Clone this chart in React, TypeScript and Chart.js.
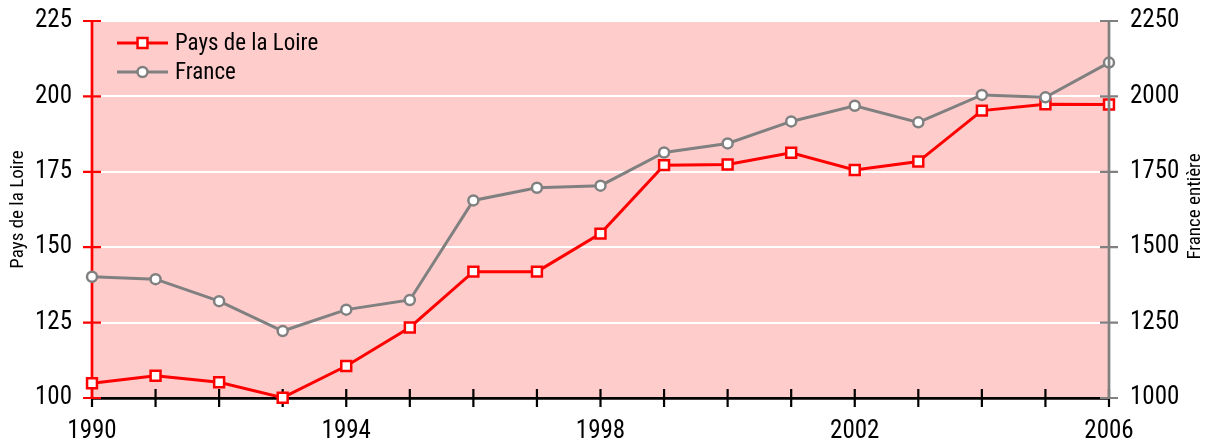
import React, { useEffect, useRef } from "react";
import { Chart, registerables } from "chart.js";

Chart.register(...registerables);

const years = ["1990","1991","1992","1993","1994","1995","1996","1997","1998","1999","2000","2001","2002","2003","2004","2005","2006"];
const labeledYears = ["1990", "1994", "1998", "2002", "2006"];
const paysDeLaLoire = [104.9, 107.4, 105.2, 100.1, 110.6, 123.4, 141.9, 141.9, 154.5, 177.2, 177.4, 181.3, 175.6, 178.4, 195.3, 197.4, 197.3];
const france = [1402, 1394, 1321, 1222, 1293, 1325, 1655, 1697, 1704, 1814, 1844, 1917, 1969, 1914, 2005, 1997, 2112];
const leftTitle = "Pays de la Loire";
const rightTitle = "France entière";

const FONT = "'Roboto Condensed', 'Liberation Sans Narrow', 'DejaVu Sans Condensed', sans-serif";
const RED = "#ff0000";
const GRAY = "#808080";
const PINK = "#ffcccc";

export default function App() {
  const ref = useRef<HTMLCanvasElement | null>(null);

  useEffect(() => {
    if (!ref.current) return;

    const bgPlugin = {
      id: "bg",
      beforeDraw(chart: any) {
        const { ctx, chartArea: a } = chart;
        ctx.save();
        ctx.fillStyle = PINK;
        ctx.fillRect(a.left, a.top, a.right - a.left, a.bottom - a.top);
        ctx.restore();
      },
    };

    const ticksPlugin = {
      id: "crossTicks",
      beforeDatasetsDraw(chart: any) {
        const { ctx } = chart;
        const x = chart.scales.x;
        const y = chart.scales.y;
        ctx.save();
        ctx.lineWidth = 2.2;
        ctx.strokeStyle = "#000";
        ctx.beginPath();
        x.ticks.forEach((_: any, i: number) => {
          const px = x.getPixelForTick(i);
          ctx.moveTo(px, x.top - 9);
          ctx.lineTo(px, x.top + 9);
        });
        ctx.stroke();
        ctx.strokeStyle = RED;
        ctx.beginPath();
        y.ticks.forEach((_: any, i: number) => {
          const py = y.getPixelForTick(i);
          ctx.moveTo(y.right - 9, py);
          ctx.lineTo(y.right + 9, py);
        });
        ctx.stroke();
        ctx.lineWidth = 2.7;
        ctx.beginPath();
        ctx.moveTo(y.right, y.top);
        ctx.lineTo(y.right, y.bottom);
        ctx.stroke();
        ctx.restore();
      },
      afterDatasetsDraw(chart: any) {
        const { ctx } = chart;
        const y2 = chart.scales.y2;
        ctx.save();
        ctx.strokeStyle = GRAY;
        ctx.lineWidth = 2.7;
        ctx.beginPath();
        ctx.moveTo(y2.left, y2.top);
        ctx.lineTo(y2.left, y2.bottom);
        ctx.stroke();
        ctx.lineWidth = 2.2;
        ctx.beginPath();
        y2.ticks.forEach((_: any, i: number) => {
          const py = y2.getPixelForTick(i);
          ctx.moveTo(y2.left - 9, py);
          ctx.lineTo(y2.left + 9, py);
        });
        ctx.stroke();

        // legend
        const a = chart.chartArea;
        chart.data.datasets.forEach((ds: any, i: number) => {
          const ly = a.top + 22 + i * 29;
          const x0 = a.left + 25;
          const x1 = a.left + 76;
          const cx = (x0 + x1) / 2;
          ctx.strokeStyle = ds.borderColor;
          ctx.lineWidth = 3;
          ctx.beginPath();
          ctx.moveTo(x0, ly);
          ctx.lineTo(x1, ly);
          ctx.stroke();
          ctx.fillStyle = "#fff";
          ctx.lineWidth = 2.5;
          ctx.beginPath();
          if (ds.pointStyle === "rect") {
            const s = ds.pointRadius * Math.SQRT1_2;
            ctx.rect(cx - s, ly - s, 2 * s, 2 * s);
          } else {
            ctx.arc(cx, ly, ds.pointRadius, 0, Math.PI * 2);
          }
          ctx.fill();
          ctx.stroke();
          ctx.fillStyle = "#000";
          ctx.font = `23px ${FONT}`;
          ctx.textBaseline = "middle";
          ctx.textAlign = "left";
          ctx.fillText(ds.label, a.left + 83, ly + 1);
        });

        // axis titles
        ctx.font = `19px ${FONT}`;
        ctx.fillStyle = "#000";
        ctx.textAlign = "center";
        ctx.textBaseline = "middle";
        ctx.save();
        ctx.translate(18, (a.top + a.bottom) / 2);
        ctx.rotate(-Math.PI / 2);
        ctx.fillText(leftTitle, 0, 0);
        ctx.restore();
        ctx.save();
        ctx.translate(1195, (a.top + a.bottom) / 2 - 3);
        ctx.rotate(-Math.PI / 2);
        ctx.fillText(rightTitle, 0, 0);
        ctx.restore();
        ctx.restore();
      },
    };

    const chart = new Chart(ref.current, {
      type: "line",
      data: {
        labels: years,
        datasets: [
          {
            label: "Pays de la Loire",
            data: paysDeLaLoire,
            yAxisID: "y",
            borderColor: RED,
            backgroundColor: "#fff",
            borderWidth: 3,
            pointStyle: "rect",
            pointRadius: 7,
            pointBorderWidth: 2.5,
            pointBackgroundColor: "#fff",
            pointBorderColor: RED,
            clip: false as any,
            order: 1,
            tension: 0,
          },
          {
            label: "France",
            data: france,
            yAxisID: "y2",
            borderColor: GRAY,
            backgroundColor: "#fff",
            borderWidth: 3,
            pointStyle: "circle",
            pointRadius: 5,
            pointBorderWidth: 2.5,
            pointBackgroundColor: "#fff",
            pointBorderColor: GRAY,
            clip: false as any,
            order: 0,
            tension: 0,
          },
        ],
      },
      options: {
        animation: false,
        responsive: true,
        maintainAspectRatio: false,
        layout: { padding: { top: 21, left: 0, right: 0, bottom: 0 } },
        plugins: { legend: { display: false }, tooltip: { enabled: false } },
        scales: {
          x: {
            type: "category",
            offset: false,
            grid: { display: false, drawTicks: false },
            border: { display: true, color: "#000", width: 2.7 },
            ticks: {
              autoSkip: false,
              maxRotation: 0,
              padding: 19,
              color: "#000",
              font: { family: FONT, size: 25 },
              callback: function (this: any, value: any) {
                const l = this.getLabelForValue(value);
                return labeledYears.includes(l) ? l : "";
              },
            },
            afterFit(scale: any) {
              scale.height = 45;
              scale.paddingLeft = 0;
              scale.paddingRight = 0;
            },
          },
          y: {
            position: "left",
            min: 100,
            max: 225,
            ticks: {
              stepSize: 25,
              padding: 20,
              color: "#000",
              font: { family: FONT, size: 25 },
              callback: (v: any) => String(v),
            },
            grid: { color: "#ffffff", lineWidth: 2, drawTicks: false },
            border: { display: false },
            afterFit(scale: any) {
              scale.width = 92;
              scale.paddingTop = 0;
              scale.paddingBottom = 0;
            },
          },
          y2: {
            position: "right",
            min: 1000,
            max: 2250,
            ticks: {
              stepSize: 250,
              padding: 21,
              color: "#000",
              font: { family: FONT, size: 25 },
              callback: (v: any) => String(v),
            },
            grid: { display: false, drawTicks: false },
            border: { display: false },
            afterFit(scale: any) {
              scale.width = 103;
              scale.paddingTop = 0;
              scale.paddingBottom = 0;
            },
          },
        },
      },
      plugins: [bgPlugin, ticksPlugin],
    } as any);

    return () => chart.destroy();
  }, []);

  return (
    <div style={{ position: "absolute", left: 0, top: 0, width: 1212, height: 443 }}>
      <canvas ref={ref} />
    </div>
  );
}
